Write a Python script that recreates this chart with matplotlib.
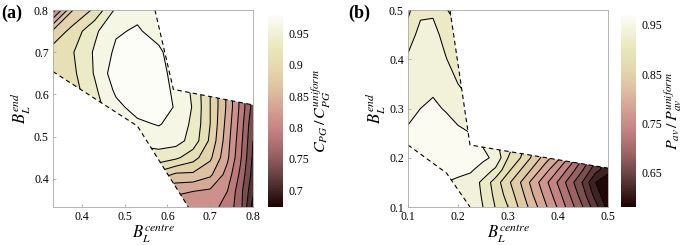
import numpy as np
import matplotlib
matplotlib.use("Agg")
import matplotlib.pyplot as plt
from matplotlib.colors import LinearSegmentedColormap, Normalize
from matplotlib.cm import ScalarMappable
from matplotlib.patches import Polygon

plt.rcParams['font.family'] = 'serif'
plt.rcParams['font.serif'] = ['Liberation Serif', 'DejaVu Serif']
plt.rcParams['mathtext.fontset'] = 'stix'

# ---- panel (a): C_PG / C_PG^uniform on a coarse grid
xa = [0.333, 0.38, 0.43, 0.48, 0.53, 0.58, 0.62, 0.66, 0.70, 0.74, 0.77, 0.80]
ya = [0.333, 0.37, 0.41, 0.45, 0.49, 0.53, 0.57, 0.61, 0.65, 0.70, 0.75, 0.80]
za = [
    [0.81, 0.81, 0.81, 0.81, 0.81, 0.81, 0.81, 0.815, 0.81, 0.79, 0.76, 0.69],
    [0.82, 0.83, 0.83, 0.83, 0.83, 0.83, 0.83, 0.825, 0.82, 0.80, 0.76, 0.705],
    [0.84, 0.86, 0.87, 0.88, 0.89, 0.89, 0.87, 0.87, 0.855, 0.815, 0.77, 0.715],
    [0.86, 0.88, 0.90, 0.92, 0.94, 0.94, 0.93, 0.91, 0.88, 0.83, 0.78, 0.72],
    [0.88, 0.90, 0.92, 0.94, 0.955, 0.96, 0.96, 0.94, 0.895, 0.835, 0.785, 0.725],
    [0.90, 0.91, 0.93, 0.955, 0.97, 0.977, 0.965, 0.945, 0.90, 0.84, 0.79, 0.73],
    [0.90, 0.91, 0.94, 0.968, 0.985, 0.99, 0.972, 0.948, 0.90, 0.845, 0.795, 0.74],
    [0.91, 0.915, 0.945, 0.98, 0.99, 0.985, 0.97, 0.945, 0.90, 0.845, 0.795, 0.74],
    [0.91, 0.92, 0.952, 0.99, 0.99, 0.98, 0.97, 0.945, 0.90, 0.845, 0.795, 0.74],
    [0.912, 0.924, 0.953, 0.98, 0.99, 0.98, 0.96, 0.95, 0.92, 0.88, 0.82, 0.76],
    [0.88, 0.91, 0.945, 0.972, 0.978, 0.965, 0.955, 0.95, 0.93, 0.90, 0.86, 0.80],
    [0.79, 0.875, 0.905, 0.955, 0.968, 0.962, 0.955, 0.95, 0.93, 0.90, 0.86, 0.80],
]
# valid region and its dashed edges
region_a = [(0.333, 0.8), (0.571, 0.8), (0.614, 0.612), (0.8, 0.575), (0.8, 0.333),
            (0.649, 0.333), (0.53, 0.525), (0.333, 0.654)]
dash_a = [[(0.571, 0.8), (0.614, 0.612), (0.8, 0.575)],
          [(0.333, 0.654), (0.53, 0.525), (0.649, 0.333)]]
ticks_a = [0.4, 0.5, 0.6, 0.7, 0.8]

# ---- panel (b): P_av / P_av^uniform
xb = [0.1, 0.125, 0.15, 0.175, 0.2, 0.225, 0.25, 0.275, 0.3, 0.325, 0.35,
      0.375, 0.4, 0.425, 0.45, 0.475, 0.5]
yb = [0.1, 0.125, 0.15, 0.175, 0.2, 0.225, 0.25, 0.3, 0.35, 0.4, 0.45, 0.5]
zb = [
    [0.945, 0.945, 0.945, 0.945, 0.945, 0.94, 0.925, 0.899, 0.875, 0.844, 0.8125, 0.779, 0.747, 0.711, 0.675, 0.635, 0.59],
    [0.945, 0.945, 0.945, 0.945, 0.95, 0.94, 0.922, 0.893, 0.865, 0.835, 0.80, 0.768, 0.735, 0.698, 0.66, 0.615, 0.578],
    [0.95, 0.95, 0.95, 0.95, 0.945, 0.94, 0.919, 0.8875, 0.856, 0.825, 0.79, 0.757, 0.722, 0.685, 0.647, 0.60, 0.58],
    [0.955, 0.958, 0.958, 0.955, 0.957, 0.953, 0.94, 0.92, 0.881, 0.85, 0.819, 0.784, 0.75, 0.713, 0.675, 0.633, 0.61],
    [0.96, 0.965, 0.965, 0.965, 0.962, 0.96, 0.955, 0.945, 0.90, 0.875, 0.844, 0.8125, 0.782, 0.743, 0.70, 0.657, 0.617],
    [0.96, 0.965, 0.968, 0.968, 0.965, 0.958, 0.949, 0.93, 0.91, 0.885, 0.855, 0.825, 0.79, 0.75, 0.71, 0.665, 0.625],
    [0.955, 0.962, 0.965, 0.963, 0.957, 0.95, 0.94, 0.92, 0.90, 0.88, 0.86, 0.83, 0.80, 0.76, 0.72, 0.68, 0.64],
    [0.94, 0.95, 0.955, 0.948, 0.935, 0.93, 0.92, 0.91, 0.90, 0.88, 0.86, 0.83, 0.80, 0.76, 0.72, 0.68, 0.64],
    [0.935, 0.94, 0.944, 0.94, 0.925, 0.915, 0.91, 0.90, 0.89, 0.88, 0.86, 0.83, 0.80, 0.76, 0.72, 0.68, 0.64],
    [0.93, 0.94, 0.94, 0.927, 0.91, 0.90, 0.90, 0.89, 0.88, 0.87, 0.86, 0.83, 0.80, 0.76, 0.72, 0.68, 0.64],
    [0.91, 0.935, 0.935, 0.915, 0.905, 0.90, 0.90, 0.89, 0.88, 0.87, 0.86, 0.83, 0.80, 0.76, 0.72, 0.68, 0.64],
    [0.895, 0.918, 0.92, 0.902, 0.89, 0.88, 0.88, 0.88, 0.88, 0.87, 0.86, 0.83, 0.80, 0.76, 0.72, 0.68, 0.64],
]
region_b = [(0.1, 0.5), (0.184, 0.5), (0.224, 0.226), (0.5, 0.179), (0.5, 0.1),
            (0.224, 0.1), (0.177, 0.169), (0.1, 0.226)]
dash_b = [[(0.184, 0.5), (0.224, 0.226), (0.5, 0.179)],
          [(0.1, 0.226), (0.177, 0.169), (0.224, 0.1)]]
ticks_b = [0.1, 0.2, 0.3, 0.4, 0.5]

levels_a = [0.65, 0.675, 0.7, 0.725, 0.75, 0.775, 0.8, 0.825, 0.85, 0.875, 0.9, 0.925, 0.95, 0.975, 1.0]
levels_b = [0.55, 0.575, 0.6, 0.625, 0.65, 0.675, 0.7, 0.725, 0.75, 0.775, 0.8, 0.825,
            0.85, 0.875, 0.9, 0.925, 0.95, 0.975, 1.0]
cbar_a = (0.673, 0.98, [0.7, 0.75, 0.8, 0.85, 0.9, 0.95], ['0.7', '0.75', '0.8', '0.85', '0.9', '0.95'])
cbar_b = (0.58, 0.97, [0.65, 0.75, 0.85, 0.95], ['0.65', '0.75', '0.85', '0.95'])

cmap = LinearSegmentedColormap.from_list("rose", [
    (0.00, "#1a0000"), (0.08, "#3e2222"), (0.18, "#6e4646"), (0.28, "#9c6464"),
    (0.40, "#c48282"), (0.50, "#d29e92"), (0.60, "#dcbca0"), (0.72, "#e4d8ae"),
    (0.82, "#e8e6b8"), (0.90, "#f0f0d4"), (1.00, "#fdfdf8")])

fig = plt.figure(figsize=(6.85, 2.45), dpi=100)


def panel(ax_rect, cax_rect, x, y, z, levels, region, dashes, cb, ticks, clabel, letter, letter_x):
    ax = fig.add_axes(ax_rect)
    norm = Normalize(cb[0], cb[1])
    X, Y = np.meshgrid(x, y)
    Z = np.array(z)
    cf = ax.contourf(X, Y, Z, levels=levels, cmap=cmap, norm=norm)
    cl = ax.contour(X, Y, Z, levels=levels, colors='black', linewidths=0.75)
    clip = Polygon(region, closed=True, transform=ax.transData, facecolor='none', edgecolor='none')
    ax.add_patch(clip)
    cf.set_clip_path(clip)
    cl.set_clip_path(clip)
    for seg in dashes:
        sx, sy = zip(*seg)
        ax.plot(sx, sy, color='black', lw=0.8, ls=(0, (4, 3)))
    ax.set_xlim(x[0], x[-1])
    ax.set_ylim(y[0], y[-1])
    ax.set_xticks(ticks)
    ax.set_yticks(ticks)
    ax.set_xticklabels([f'{t:g}' for t in ticks])
    ax.set_yticklabels([f'{t:g}' for t in ticks])
    ax.tick_params(labelsize=8.5, length=2, width=0.5, color='#999999', direction='in', pad=3)
    for s in ax.spines.values():
        s.set_color('#aaaaaa')
        s.set_linewidth(0.6)
    ax.set_xlabel(r'$B_L^{centre}$', fontsize=12, labelpad=0)
    ax.set_ylabel(r'$B_L^{end}$', fontsize=12, labelpad=1)
    cax = fig.add_axes(cax_rect)
    cbar = fig.colorbar(ScalarMappable(norm=norm, cmap=cmap), cax=cax)
    cbar.outline.set_visible(False)
    cbar.set_ticks(cb[2])
    cbar.set_ticklabels(cb[3])
    cax.tick_params(labelsize=8.5, length=0, pad=4)
    cbar.set_label(clabel, fontsize=11.5, labelpad=0)
    fig.text(letter_x, 0.945, letter, fontsize=13, fontweight='bold', va='center')
    return ax


panel([0.0774, 0.155, 0.292, 0.804], [0.391, 0.155, 0.022, 0.784], xa, ya, za, levels_a,
      region_a, dash_a, cbar_a, ticks_a, r'$C_{PG}\,/\,C_{PG}^{uniform}$', '(a)', 0.002)
panel([0.5956, 0.155, 0.292, 0.804], [0.907, 0.155, 0.022, 0.784], xb, yb, zb, levels_b,
      region_b, dash_b, cbar_b, ticks_b, r'$P_{av}\,/\,P_{av}^{uniform}$', '(b)', 0.508)

fig.savefig('out.png', dpi=100)
